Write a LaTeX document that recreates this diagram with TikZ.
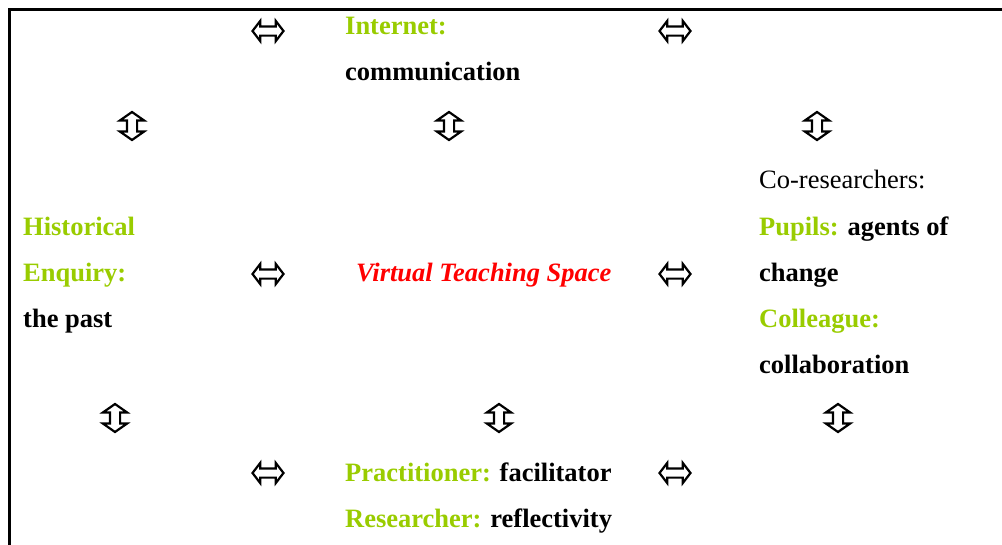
\documentclass[tikz,border=0pt]{standalone}
\usepackage{fontspec}
\setmainfont{Liberation Serif}
\usetikzlibrary{shapes.arrows}
\definecolor{lgreen}{RGB}{153,204,0}
\definecolor{vred}{RGB}{255,0,0}
\tikzset{
  txt/.style={anchor=base west,inner sep=0pt,font=\fontsize{26.5}{30}\selectfont\bfseries},
  plain/.style={anchor=base west,inner sep=0pt,font=\fontsize{26.5}{30}\selectfont},
  harrow/.style={double arrow,draw=black,line width=2.2pt,inner sep=0pt,inner ysep=3.5pt,
    minimum height=31pt,double arrow head extend=5.5pt,double arrow tip angle=105,double arrow head indent=0pt},
  varrow/.style={double arrow,draw=black,line width=2.2pt,inner sep=0pt,inner ysep=4pt,rotate=90,
    minimum height=28pt,double arrow head extend=7pt,double arrow tip angle=110,double arrow head indent=0pt},
  frame/.style={line width=2.5pt,line cap=rect}
}
\begin{document}
\begin{tikzpicture}[x=1pt,y=-1pt]
\useasboundingbox (0,0) rectangle (1002,544);
\coordinate (fbl) at (9.5,544);
\coordinate (ftl) at (9.5,9.5);
\coordinate (ftr) at (1002,9.5);
\draw[frame] (fbl) -- (ftl) -- (ftr);
% top
\node[txt,text=lgreen] (internet) at (345,34) {Internet:};
\node[txt] (comm) at (345,80.5) {communication};
% left
\node[txt,text=lgreen] (hist) at (23,235) {Historical};
\node[txt,text=lgreen] (enq) at (23,281) {Enquiry:};
\node[txt] (past) at (23,327) {the past};
% centre
\node[txt,text=vred,font=\fontsize{26.5}{30}\selectfont\bfseries\itshape] (vts) at (356,281) {Virtual Teaching Space};
% right
\node[plain] (cores) at (759,188.5) {Co-researchers:};
\node[txt] (pupils) at (759,235) {\textcolor{lgreen}{Pupils:} agents of};
\node[txt] (change) at (759,281) {change};
\node[txt,text=lgreen] (coll) at (759,327) {Colleague:};
\node[txt] (collab) at (759,373) {collaboration};
% bottom
\node[txt] (pract) at (345,481) {\textcolor{lgreen}{Practitioner:} facilitator};
\node[txt] (res) at (345,527) {\textcolor{lgreen}{Researcher:} reflectivity};
% horizontal arrows
\node[harrow] (h1) at (268,31) {};
\node[harrow] (h2) at (675,31) {};
\node[harrow] (h3) at (268,274) {};
\node[harrow] (h4) at (675,274) {};
\node[harrow] (h5) at (268,473) {};
\node[harrow] (h6) at (675,473) {};
% vertical arrows
\node[varrow] (v1) at (132,126) {};
\node[varrow] (v2) at (449,126) {};
\node[varrow] (v3) at (817,126) {};
\node[varrow] (v4) at (115,418) {};
\node[varrow] (v5) at (499,418) {};
\node[varrow] (v6) at (838,418) {};
\end{tikzpicture}
\end{document}
